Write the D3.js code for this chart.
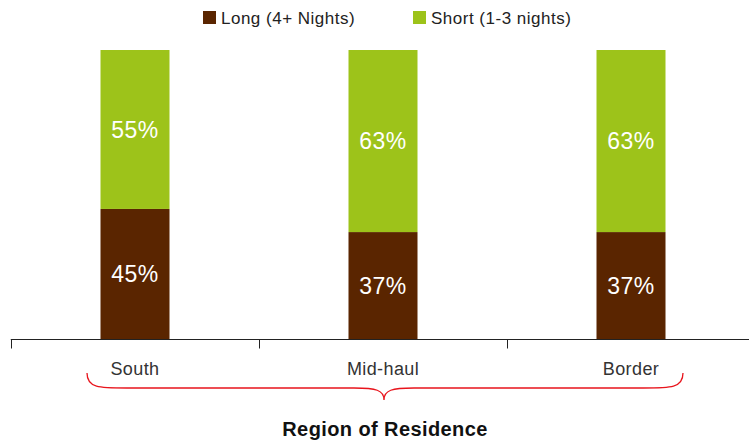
<!DOCTYPE html>
<html>
<head>
<meta charset="utf-8">
<script src="https://cdn.jsdelivr.net/npm/d3@7"></script>
<style>
  body { margin: 0; background: #fff; }
  text { font-family: "Liberation Sans", Arial, sans-serif; }
</style>
</head>
<body>
<svg id="chart" width="749" height="443"></svg>
<script>
// Trip length share by region of residence
const categories = ["South", "Mid-haul", "Border"];
const longShare = [45, 37, 37];
const shortShare = [55, 63, 63];
const seriesNames = ["Long (4+ Nights)", "Short (1-3 nights)"];
const seriesColors = ["#5a2500", "#9dc31a"];
const axisTitle = "Region of Residence";

const svg = d3.select("#chart");
const margin = { left: 11, top: 50, bottom: 339 };

const x = d3.scaleBand()
  .domain(categories)
  .range([margin.left, margin.left + 248 * categories.length])
  .paddingInner(0).paddingOuter(0);

const y = d3.scaleLinear().domain([0, 100]).range([margin.bottom, margin.top]);

const barW = 69;
const rows = categories.map((c, i) => ({ cat: c, long: longShare[i], short: shortShare[i] }));
const stacked = d3.stack().keys(["long", "short"])(rows);

const g = svg.append("g");
stacked.forEach((layer, li) => {
  const lg = g.append("g");
  lg.selectAll("rect").data(layer).enter().append("rect")
    .attr("x", d => x(d.data.cat) + x.bandwidth() / 2 - barW / 2)
    .attr("y", d => y(d[1]))
    .attr("width", barW)
    .attr("height", d => y(d[0]) - y(d[1]))
    .attr("fill", seriesColors[li]);
  lg.selectAll("text").data(layer).enter().append("text")
    .attr("x", d => x(d.data.cat) + x.bandwidth() / 2)
    .attr("y", d => (y(d[0]) + y(d[1])) / 2)
    .attr("dy", "0.36em")
    .attr("text-anchor", "middle")
    .attr("fill", "#fff")
    .style("font-size", "23px")
    .style("letter-spacing", "0.5px")
    .text(d => (d[1] - d[0]) + "%");
});

// Category axis
const axis = d3.axisBottom(x).tickSize(9).tickSizeOuter(0).tickFormat("");
const ag = svg.append("g").attr("transform", `translate(0,${margin.bottom + 0.5})`).call(axis);
ag.select(".domain").attr("d", `M${margin.left},0.5V0H749`).attr("stroke", "#222");
ag.selectAll(".tick").remove();
// tick marks on band boundaries
const bounds = categories.map(c => x(c));
ag.selectAll("line.bound").data(bounds).enter().append("line")
  .attr("class", "bound")
  .attr("x1", d => Math.round(d) + 0.5).attr("x2", d => Math.round(d) + 0.5)
  .attr("y1", 0).attr("y2", 9)
  .attr("stroke", "#222");

svg.append("g").selectAll("text").data(categories).enter().append("text")
  .attr("x", d => x(d) + x.bandwidth() / 2)
  .attr("y", 375)
  .attr("text-anchor", "middle")
  .attr("fill", "#333")
  .style("font-size", "18px")
  .style("letter-spacing", "0.4px")
  .text(d => d);

// Brace grouping the categories
const bx0 = 87, bx1 = 683, btop = 373, bmid = 388, btip = 400;
const cx = (bx0 + bx1) / 2 - 1;
const brace = `M${bx0},${btop} C${bx0},${bmid} ${bx0 + 12},${bmid} ${bx0 + 40},${bmid}
  L${cx - 30},${bmid} C${cx - 8},${bmid} ${cx},${bmid + 2} ${cx},${btip}
  C${cx},${bmid + 2} ${cx + 8},${bmid} ${cx + 30},${bmid}
  L${bx1 - 40},${bmid} C${bx1 - 12},${bmid} ${bx1},${bmid} ${bx1},${btop}`;
svg.append("path").attr("d", brace).attr("fill", "none").attr("stroke", "#e8141c").attr("stroke-width", 1.3);

svg.append("text")
  .attr("x", cx + 1).attr("y", 436)
  .attr("text-anchor", "middle")
  .attr("fill", "#111")
  .style("font-size", "20px").style("font-weight", "bold")
  .style("letter-spacing", "0.4px")
  .text(axisTitle);

// Legend
const legendX = [203, 413];
const lgd = svg.append("g").selectAll("g").data(seriesNames).enter().append("g")
  .attr("transform", (d, i) => `translate(${legendX[i]},11)`);
lgd.append("rect").attr("width", 13).attr("height", 13).attr("fill", (d, i) => seriesColors[i]);
lgd.append("text").attr("x", 18).attr("y", 13)
  .attr("fill", "#222").style("font-size", "17px").style("letter-spacing", "0.5px").text(d => d);
</script>
</body>
</html>
